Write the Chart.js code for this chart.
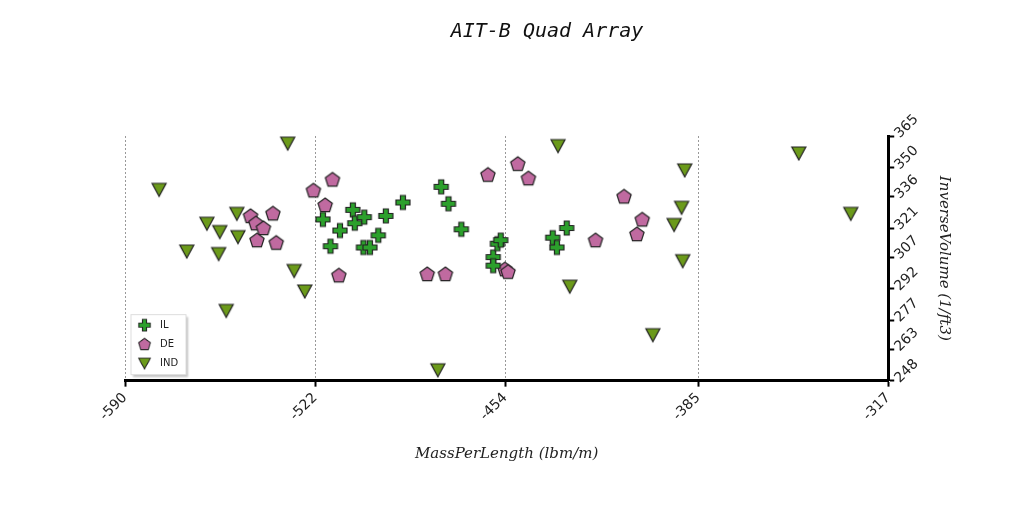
<!DOCTYPE html>
<html><head><meta charset="utf-8">
<script src="https://cdn.jsdelivr.net/npm/chart.js@4"></script>
<style>html,body{margin:0;background:#fff}#c{display:block}</style>
</head><body>
<canvas id="c" width="1024" height="512"></canvas>
<script>
const xTicks = [-590, -522, -454, -385, -317];
const yTicks = [248, 263, 277, 292, 307, 321, 336, 350, 365];

const ilX = [-519.2,-516.5,-513.1,-508.5,-507.8,-504.4,-504.7,-502.4,-499.4,-496.7,-490.6,-476.9,-474.3,-469.7,-458.3,-458.3,-456.8,-455.6,-437.0,-435.5,-432.0];
const ilY = [325.1,312.3,319.8,329.7,323.3,326.2,311.7,311.7,317.5,326.8,333.2,340.7,332.6,320.4,307.1,303.0,313.5,315.2,316.4,311.7,321.0];
const deX = [-545.1,-543.2,-540.5,-537.1,-542.8,-535.9,-522.6,-515.8,-518.4,-513.5,-481.9,-475.4,-460.2,-449.5,-445.7,-454.1,-453.0,-421.7,-411.5,-405.0,-406.9];
const deY = [326.8,323.3,321.0,328.0,315.2,314.0,339.0,344.2,332.0,298.4,299.0,299.0,346.5,351.7,344.8,301.3,300.1,315.2,336.1,325.1,318.1];
const indX = [-577.8,-531.8,-567.9,-560.7,-556.1,-556.5,-550.0,-549.6,-553.8,-529.5,-525.7,-478.1,-435.1,-430.9,-401.2,-389.8,-390.9,-393.6,-390.5,-349.0,-330.4];
const indY = [339.5,361.6,310.0,323.3,319.3,308.8,328.0,316.9,281.6,300.7,290.9,253.2,360.4,293.2,270.0,348.8,330.9,322.7,305.4,356.9,328.0];

function marker(draw, fill) {
  const c = document.createElement('canvas');
  c.width = 18; c.height = 18;
  const g = c.getContext('2d');
  g.beginPath(); draw(g); g.closePath();
  g.fillStyle = fill; g.fill();
  g.lineWidth = 1.2; g.strokeStyle = '#222'; g.stroke();
  return c;
}
const plusImg = marker(g => {
  const a = 2.5, b = 7, o = 9;
  g.moveTo(o-a,o-b); g.lineTo(o+a,o-b); g.lineTo(o+a,o-a); g.lineTo(o+b,o-a);
  g.lineTo(o+b,o+a); g.lineTo(o+a,o+a); g.lineTo(o+a,o+b); g.lineTo(o-a,o+b);
  g.lineTo(o-a,o+a); g.lineTo(o-b,o+a); g.lineTo(o-b,o-a); g.lineTo(o-a,o-a);
}, '#2ca02c');
const pentImg = marker(g => {
  for (let i = 0; i < 5; i++) {
    const t = -Math.PI/2 + i*2*Math.PI/5;
    g.lineTo(9 + 7.5*Math.cos(t), 9.5 + 7.5*Math.sin(t));
  }
}, '#c06aa0');
const triImg = marker(g => {
  g.moveTo(2,3); g.lineTo(16,3); g.lineTo(9,16);
}, '#6b9a1a');

const pts = (xs, ys) => xs.map((x, i) => ({ x: x, y: ys[i] }));

const floatLegend = {
  id: 'floatLegend',
  afterDraw(chart) {
    const ctx = chart.ctx, a = chart.chartArea;
    const x = a.left + 6, y = a.bottom - 66, w = 55, h = 60;
    ctx.save();
    ctx.shadowColor = 'rgba(0,0,0,0.25)'; ctx.shadowOffsetX = 2; ctx.shadowOffsetY = 2; ctx.shadowBlur = 2;
    ctx.fillStyle = '#fff'; ctx.fillRect(x, y, w, h);
    ctx.shadowColor = 'transparent';
    ctx.strokeStyle = '#ddd'; ctx.lineWidth = 1; ctx.strokeRect(x, y, w, h);
    ctx.font = '10px "DejaVu Sans"'; ctx.fillStyle = '#222'; ctx.textBaseline = 'middle';
    chart.data.datasets.forEach((d, i) => {
      const cy = y + 11 + i * 19;
      ctx.drawImage(d.pointStyle, x + 6, cy - 8, 15, 15);
      ctx.fillText(d.label, x + 29, cy);
    });
    ctx.restore();
  }
};

new Chart(document.getElementById('c'), {
  type: 'scatter',
  data: {
    datasets: [
      { label: 'IL', data: pts(ilX, ilY), pointStyle: plusImg },
      { label: 'DE', data: pts(deX, deY), pointStyle: pentImg },
      { label: 'IND', data: pts(indX, indY), pointStyle: triImg },
    ],
  },
  options: {
    responsive: false,
    animation: false,
    layout: { padding: { left: 125, right: 55, top: 10, bottom: 45 } },
    plugins: {
      legend: { display: false },
      tooltip: { enabled: false },
      title: {
        display: true, text: 'AIT-B Quad Array', color: '#111',
        font: { family: '"DejaVu Sans Mono"', style: 'italic', size: 20, weight: 'normal' },
        padding: { top: 10, bottom: 92 },
      },
    },
    scales: {
      x: {
        type: 'linear', min: -590, max: -317,
        afterBuildTicks: s => { s.ticks = xTicks.map(v => ({ value: v })); },
        grid: { color: '#999', drawTicks: true, tickLength: 6, tickColor: '#000', tickWidth: 2 },
        border: { color: '#000', width: 3, dash: [2, 2] },
        ticks: { color: '#222', maxRotation: 45, minRotation: 45, font: { family: '"DejaVu Sans"', size: 14 } },
        title: { display: true, text: 'MassPerLength (lbm/m)', color: '#222', padding: { top: 18 },
          font: { family: '"DejaVu Serif"', style: 'italic', size: 15 } },
      },
      y: {
        type: 'linear', position: 'right', min: 248, max: 365,
        afterBuildTicks: s => { s.ticks = yTicks.map(v => ({ value: v })); },
        grid: { drawOnChartArea: false, tickLength: 6, tickColor: '#000', tickWidth: 2 },
        border: { color: '#000', width: 3 },
        ticks: { color: '#222', maxRotation: 45, minRotation: 45, font: { family: '"DejaVu Sans"', size: 14 } },
        title: { display: true, text: 'InverseVolume (1/ft3)', color: '#222', padding: { top: 16 },
          font: { family: '"DejaVu Serif"', style: 'italic', size: 15 } },
      },
    },
  },
  plugins: [floatLegend],
});
</script>
</body></html>
